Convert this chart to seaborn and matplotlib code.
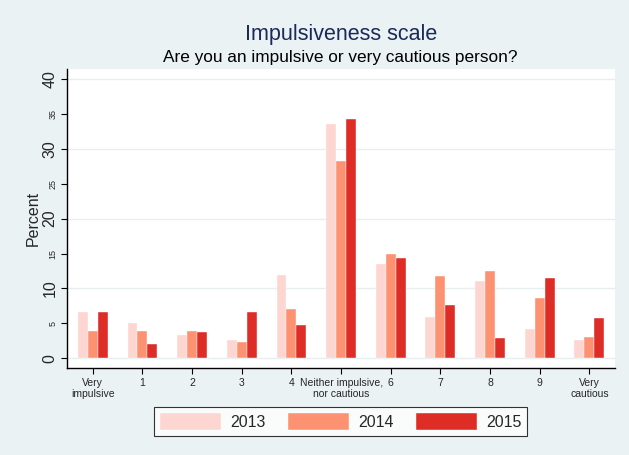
import numpy as np
import pandas as pd
import matplotlib
matplotlib.use('Agg')
import matplotlib.pyplot as plt
import seaborn as sns

categories = ['Very\nimpulsive', '1', '2', '3', '4', 'Neither impulsive,\nnor cautious',
              '6', '7', '8', '9', 'Very\ncautious']
years = ['2013', '2014', '2015']
pct_2013 = [6.7, 5.1, 3.4, 2.6, 11.9, 33.6, 13.5, 5.9, 11.0, 4.2, 2.6]
pct_2014 = [3.9, 3.9, 3.9, 2.3, 7.1, 28.2, 14.9, 11.8, 12.5, 8.6, 3.1]
pct_2015 = [6.7, 2.0, 3.8, 6.7, 4.8, 34.3, 14.3, 7.7, 2.9, 11.5, 5.8]
colors = ['#fdd5d1', '#fc9272', '#de2d26']

df = pd.DataFrame({
    'category': categories * 3,
    'year': [y for y in years for _ in categories],
    'percent': pct_2013 + pct_2014 + pct_2015,
})

sns.set_style('white')
plt.rcParams['font.family'] = ['Liberation Sans', 'DejaVu Sans']

bg = '#eaf2f3'
fig = plt.figure(figsize=(6.29, 4.55), dpi=100, facecolor=bg)
ax = fig.add_axes([0.1065, 0.191, 0.8715, 0.657])
ax.set_facecolor('white')

sns.barplot(data=df, x='category', y='percent', hue='year', order=categories,
            hue_order=years, palette=colors, width=0.6, ax=ax,
            edgecolor='white', linewidth=0.3, saturation=1, legend=False)

ax.set_xlim(-0.52, 10.52)
ax.set_ylim(-1.4, 41.4)
ax.set_yticks([0, 10, 20, 30, 40])
ax.set_yticks([5, 15, 25, 35], minor=True)
ax.set_yticklabels(['0', '10', '20', '30', '40'], rotation=90, va='center', fontsize=11.5)
ax.set_yticklabels(['5', '15', '25', '35'], minor=True, rotation=90, va='center', fontsize=6.5)
ax.tick_params(axis='y', which='both', left=True, length=4, width=0.8, color='black', pad=3)
ax.tick_params(axis='x', bottom=True, length=4, width=0.8, color='black', labelsize=7.5, pad=3)
ax.grid(axis='y', which='major', color='#e6eef0', lw=1.0)
ax.set_axisbelow(True)
for s in ['top', 'right']:
    ax.spines[s].set_visible(False)
for s in ['left', 'bottom']:
    ax.spines[s].set_color('black')
    ax.spines[s].set_linewidth(1.0)
ax.set_xlabel('')
ax.set_ylabel('Percent', fontsize=11.5, labelpad=1)

fig.text(0.543, 0.925, 'Impulsiveness scale', ha='center', va='center',
         fontsize=15.5, color='#1a2a5a')
fig.text(0.541, 0.873, 'Are you an impulsive or very cautious person?', ha='center',
         va='center', fontsize=12.4, color='black')

handles = [plt.Rectangle((0, 0), 1, 1, facecolor=c, edgecolor='white', lw=0.3) for c in colors]
leg = fig.legend(handles, years, loc='center', bbox_to_anchor=(0.542, 0.073), ncol=3,
                 frameon=True, fancybox=False, fontsize=11.5, handlelength=3.8,
                 handleheight=1.3, columnspacing=1.4, handletextpad=0.6,
                 borderpad=0.35, edgecolor='black')
leg.get_frame().set_linewidth(0.8)
leg.get_frame().set_facecolor('white')

fig.savefig('out.png', dpi=100, facecolor=bg)
